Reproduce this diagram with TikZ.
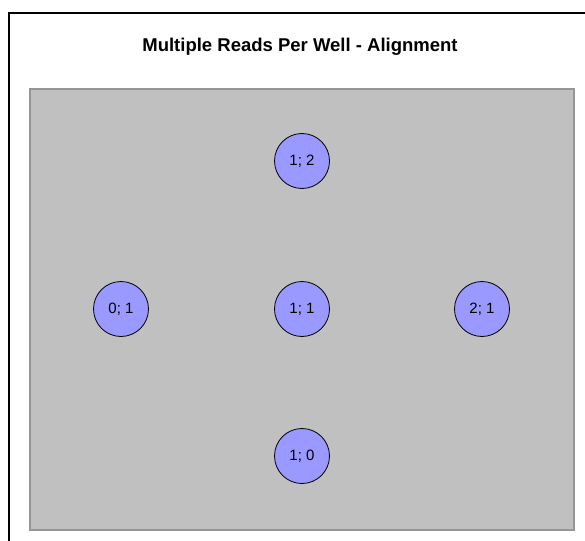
\documentclass[tikz,border=0pt]{standalone}
\usepackage{fontspec}
\setmainfont{Liberation Sans}
\definecolor{wellblue}{RGB}{153,153,255}
\definecolor{plategray}{RGB}{192,192,192}
\definecolor{plateedge}{RGB}{150,150,150}
\tikzset{
  well/.style={circle, draw=black, line width=0.8pt, fill=wellblue,
    minimum size=55pt, inner sep=0pt, font=\fontsize{15}{17}\selectfont},
  plate/.style={draw=plateedge, fill=plategray, line width=1.5pt},
}
\begin{document}
\begin{tikzpicture}[x=1pt,y=-1pt]
    \useasboundingbox (0,0) rectangle (585,540);
    \clip (0,0) rectangle (585,540);
    % outer frame
    \draw[line width=2pt] (9,560) -- (9,13) -- (600,13);
    \node[font=\bfseries\fontsize{18.5}{21}\selectfont] (title) at (300,47) {Multiple Reads Per Well - Alignment};

    % plate
    \draw[plate] (30,89) rectangle (574,530);

    % wells
    \node[well] (w12) at (302,161) {1; 2};
    \node[well] (w01) at (121,309) {0; 1};
    \node[well] (w11) at (302,309) {1; 1};
    \node[well] (w21) at (482,309) {2; 1};
    \node[well] (w10) at (302,456) {1; 0};
\end{tikzpicture}
\end{document}
